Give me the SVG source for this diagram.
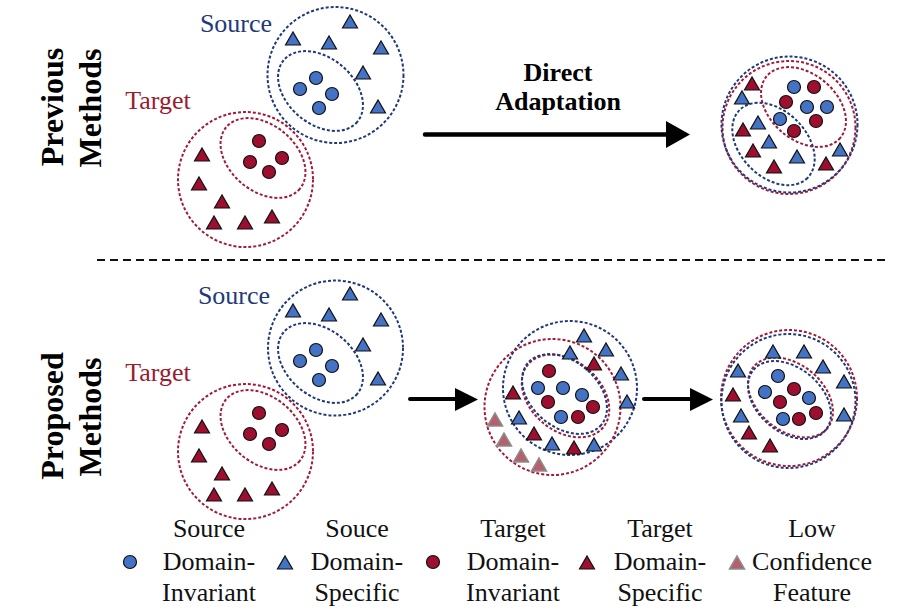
<svg xmlns="http://www.w3.org/2000/svg" xmlns:xlink="http://www.w3.org/1999/xlink" width="912" height="612" viewBox="0 0 912 612">
<style>
.bd{fill:none;stroke:#1f3a7a;stroke-width:2;stroke-dasharray:3 2}
.rd{fill:none;stroke:#a01c38;stroke-width:2;stroke-dasharray:3 2}
.lbl{font-family:"Liberation Serif","Times New Roman",serif;font-size:26px}
.bold{font-family:"Liberation Serif","Times New Roman",serif;font-weight:bold}
.leg{font-family:"Liberation Serif","Times New Roman",serif;font-size:26px;fill:#111;text-anchor:middle}
</style>
<defs>
<circle id="cb" r="6.5" fill="#4472c4" stroke="#111" stroke-width="1.2"/>
<circle id="cr" r="6.5" fill="#9e0f2f" stroke="#111" stroke-width="1.2"/>
<polygon id="tb" points="-7.5,6 7.5,6 0,-7" fill="#4472c4" stroke="#111" stroke-width="1.2"/>
<polygon id="tr" points="-7.5,6 7.5,6 0,-7" fill="#9e0f2f" stroke="#111" stroke-width="1.2"/>
<polygon id="tl" points="-7.5,6 7.5,6 0,-7" fill="#b5606f" stroke="#8c8c8c" stroke-width="1.5"/>
<ellipse id="ie" rx="48" ry="33"/>
</defs>
<rect width="912" height="612" fill="#fff"/>

<!-- side labels -->
<g id="label-previous">
<text class="bold" font-size="32" text-anchor="middle" transform="translate(63,107) rotate(-90)">Previous</text>
<text class="bold" font-size="32" text-anchor="middle" transform="translate(101,108) rotate(-90)">Methods</text>
</g>
<g id="label-proposed">
<text class="bold" font-size="32" text-anchor="middle" transform="translate(63,416) rotate(-90)">Proposed</text>
<text class="bold" font-size="32" text-anchor="middle" transform="translate(101,417) rotate(-90)">Methods</text>
</g>

<line x1="97" y1="260" x2="886" y2="260" stroke="#111" stroke-width="2" stroke-dasharray="8 5"/>

<!-- top-left: source & target -->
<g id="top-source">
<text class="lbl" x="236" y="32" text-anchor="middle" fill="#1f3a7a">Source</text>
<circle class="bd" cx="335.5" cy="75" r="68"/>
<ellipse class="bd" rx="48" ry="33" transform="translate(320.5,91) rotate(40)"/>
<use href="#cb" x="316" y="78"/><use href="#cb" x="300" y="89"/><use href="#cb" x="332" y="94"/><use href="#cb" x="319" y="108"/>
<use href="#tb" x="350" y="22"/><use href="#tb" x="293" y="39"/><use href="#tb" x="329" y="43"/><use href="#tb" x="381" y="48"/><use href="#tb" x="363" y="73"/><use href="#tb" x="378" y="107"/>
</g>
<g id="top-target">
<text class="lbl" x="158" y="109" text-anchor="middle" fill="#9b1b30">Target</text>
<circle class="rd" cx="245.5" cy="179.5" r="67.5"/>
<ellipse class="rd" rx="48" ry="33" transform="translate(263,158) rotate(40)"/>
<use href="#cr" x="259" y="141"/><use href="#cr" x="250" y="162"/><use href="#cr" x="282" y="158"/><use href="#cr" x="269" y="172"/>
<use href="#tr" x="202" y="155"/><use href="#tr" x="199" y="184"/><use href="#tr" x="222" y="202"/><use href="#tr" x="214" y="223"/><use href="#tr" x="245" y="223"/><use href="#tr" x="272" y="217"/>
</g>

<g id="direct-label">
<text class="bold" font-size="26" x="558" y="81" text-anchor="middle">Direct</text>
<text class="bold" font-size="26" x="558" y="110" text-anchor="middle">Adaptation</text>
</g>

<!-- top-right: mixed -->
<g id="top-mixed">
<circle class="rd" cx="789" cy="127.5" r="66.5"/>
<circle class="bd" cx="789.5" cy="124.5" r="68"/>
<ellipse class="rd" rx="48" ry="33" transform="translate(803.5,107) rotate(40)"/>
<ellipse class="bd" rx="48" ry="33" transform="translate(773.5,144) rotate(45)"/>
<use href="#cb" x="794" y="87"/><use href="#cr" x="814" y="87"/><use href="#cr" x="786" y="102"/><use href="#cb" x="807" y="107"/><use href="#cb" x="827" y="107"/><use href="#cr" x="816" y="121"/><use href="#cb" x="780" y="119"/><use href="#cr" x="794" y="131"/>
<use href="#tr" x="752" y="84"/><use href="#tb" x="742" y="98"/><use href="#tb" x="758" y="123"/><use href="#tr" x="743" y="130"/><use href="#tb" x="769" y="142"/><use href="#tr" x="753" y="151"/><use href="#tb" x="797" y="157"/><use href="#tr" x="774" y="167"/><use href="#tr" x="826" y="164"/><use href="#tb" x="840" y="150"/>
</g>

<!-- bottom-left: source & target -->
<g id="bottom-source">
<text class="lbl" x="234" y="304" text-anchor="middle" fill="#1f3a7a">Source</text>
<circle class="bd" cx="335.5" cy="348" r="67.5"/>
<ellipse class="bd" rx="48" ry="33" transform="translate(320.5,363) rotate(40)"/>
<use href="#cb" x="316" y="350"/><use href="#cb" x="300" y="361"/><use href="#cb" x="332" y="366"/><use href="#cb" x="319" y="380"/>
<use href="#tb" x="350" y="294"/><use href="#tb" x="293" y="311"/><use href="#tb" x="329" y="315"/><use href="#tb" x="381" y="320"/><use href="#tb" x="363" y="345"/><use href="#tb" x="378" y="379"/>
</g>
<g id="bottom-target">
<text class="lbl" x="158" y="381" text-anchor="middle" fill="#9b1b30">Target</text>
<circle class="rd" cx="245.5" cy="451.5" r="67.5"/>
<ellipse class="rd" rx="48" ry="33" transform="translate(263,430) rotate(40)"/>
<use href="#cr" x="259" y="413"/><use href="#cr" x="250" y="434"/><use href="#cr" x="282" y="430"/><use href="#cr" x="269" y="444"/>
<use href="#tr" x="202" y="427"/><use href="#tr" x="199" y="456"/><use href="#tr" x="222" y="474"/><use href="#tr" x="214" y="495"/><use href="#tr" x="245" y="495"/><use href="#tr" x="272" y="489"/>
</g>

<!-- bottom-middle: partial alignment -->
<g id="bottom-middle">
<circle class="bd" cx="570" cy="388" r="67"/>
<circle class="rd" cx="552.5" cy="407" r="68"/>
<ellipse class="rd" rx="49" ry="35" transform="translate(565.5,396) rotate(40)"/>
<ellipse class="bd" rx="48" ry="33" transform="translate(564.5,394) rotate(40)"/>
<use href="#cr" x="549" y="371"/><use href="#cb" x="538" y="388"/><use href="#cb" x="563" y="388"/><use href="#cb" x="582" y="395"/><use href="#cr" x="548" y="402"/><use href="#cr" x="593" y="407"/><use href="#cb" x="561" y="417"/><use href="#cr" x="578" y="417"/>
<use href="#tb" x="584" y="336"/><use href="#tb" x="570" y="353"/><use href="#tb" x="606" y="350"/><use href="#tr" x="594" y="364"/><use href="#tb" x="621" y="374"/><use href="#tb" x="627" y="402"/><use href="#tr" x="513" y="393"/><use href="#tb" x="519" y="418"/><use href="#tr" x="534" y="434"/><use href="#tb" x="552" y="444"/><use href="#tr" x="574" y="448"/><use href="#tb" x="594" y="445"/>
<use href="#tl" x="495" y="420"/><use href="#tl" x="504" y="440"/><use href="#tl" x="521" y="456"/><use href="#tl" x="539" y="465"/>
</g>

<!-- bottom-right: aligned -->
<g id="bottom-aligned">
<circle class="rd" cx="789" cy="398" r="68"/>
<circle class="bd" cx="788.5" cy="401" r="67"/>
<ellipse class="rd" rx="48" ry="33" transform="translate(790.5,397.5) rotate(40)"/>
<ellipse class="bd" rx="47" ry="32" transform="translate(789.5,400) rotate(40)"/>
<use href="#cb" x="778" y="376"/><use href="#cb" x="765" y="392"/><use href="#cr" x="794" y="389"/><use href="#cb" x="809" y="398"/><use href="#cr" x="780" y="402"/><use href="#cr" x="816" y="413"/><use href="#cb" x="783" y="419"/><use href="#cr" x="799" y="419"/>
<use href="#tb" x="773" y="352"/><use href="#tb" x="804" y="352"/><use href="#tb" x="738" y="371"/><use href="#tb" x="823" y="367"/><use href="#tb" x="844" y="382"/><use href="#tr" x="733" y="395"/><use href="#tb" x="741" y="416"/><use href="#tb" x="844" y="415"/><use href="#tr" x="749" y="433"/><use href="#tr" x="770" y="446"/>
</g>

<!-- connectors -->
<g id="connectors">
<line x1="425" y1="134.5" x2="668" y2="134.5" stroke="#000" stroke-width="4.5" stroke-linecap="round"/>
<polygon points="666,121 690,134.5 666,148" fill="#000"/>
<line x1="410" y1="399" x2="457" y2="399" stroke="#000" stroke-width="4" stroke-linecap="round"/>
<polygon points="455,388 478,399.5 455,411" fill="#000"/>
<line x1="644" y1="399" x2="692" y2="399" stroke="#000" stroke-width="4" stroke-linecap="round"/>
<polygon points="690,388 713,399.5 690,411" fill="#000"/>
</g>

<!-- legend -->
<g id="legend">
<use href="#cb" x="130" y="562"/>
<text class="leg" x="209" y="537">Source</text><text class="leg" x="209" y="570">Domain-</text><text class="leg" x="209" y="601">Invariant</text>
<use href="#tb" x="285" y="563"/>
<text class="leg" x="357" y="537">Souce</text><text class="leg" x="357" y="570">Domain-</text><text class="leg" x="357" y="601">Specific</text>
<use href="#cr" x="433" y="562"/>
<text class="leg" x="513" y="537">Target</text><text class="leg" x="513" y="570">Domain-</text><text class="leg" x="513" y="601">Invariant</text>
<use href="#tr" x="587" y="563"/>
<text class="leg" x="660" y="537">Target</text><text class="leg" x="660" y="570">Domain-</text><text class="leg" x="660" y="601">Specific</text>
<use href="#tl" x="737" y="563"/>
<text class="leg" x="812" y="537">Low</text><text class="leg" x="812" y="570">Confidence</text><text class="leg" x="812" y="601">Feature</text>
</g>
</svg>
